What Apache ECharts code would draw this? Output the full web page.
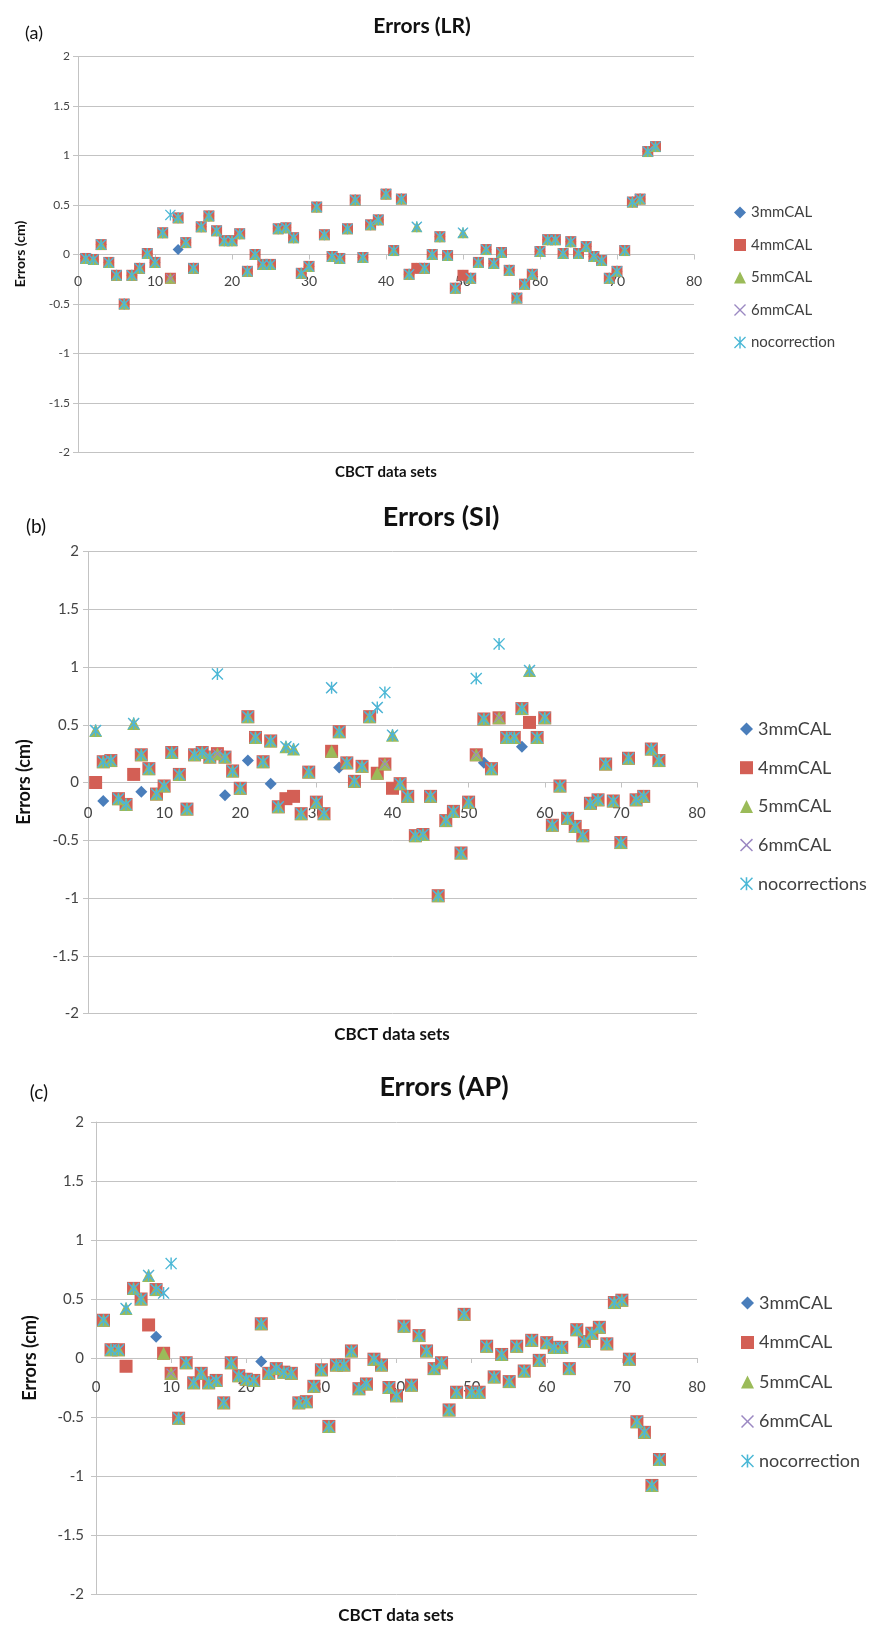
<!DOCTYPE html>
<html lang="en">

<head>
    <meta charset="utf-8">
    <title>Errors (LR / SI / AP)</title>
    <style>
        * {
            margin: 0;
            padding: 0;
        }

        #chart-container {
            width: 887px;
            height: 1626px;
            background: #fff;
        }
    </style>
</head>

<body>
    <div id="chart-container"></div>
    <script src="https://cdn.jsdelivr.net/npm/echarts@6/dist/echarts.min.js"></script>
    <script>
        // values shared by every method, data set 1..75; exceptions listed per series
        var lrBase = [-0.04, -0.05, 0.10, -0.08, -0.21, -0.50, -0.21, -0.14, 0.01, -0.08,
            0.22, -0.24, 0.37, 0.12, -0.14, 0.28, 0.39, 0.24, 0.14, 0.14,
            0.21, -0.17, 0.00, -0.10, -0.10, 0.26, 0.27, 0.17, -0.19, -0.12,
            0.48, 0.20, -0.02, -0.04, 0.26, 0.55, -0.03, 0.30, 0.35, 0.61,
            0.04, 0.56, -0.20, 0.28, -0.14, 0.00, 0.18, -0.01, -0.34, 0.22,
            -0.24, -0.08, 0.05, -0.09, 0.02, -0.16, -0.44, -0.30, -0.20, 0.03,
            0.15, 0.15, 0.01, 0.13, 0.01, 0.08, -0.02, -0.06, -0.24, -0.17,
            0.04, 0.53, 0.56, 1.04, 1.09];
        var lrOverrides = {
            '3mmCAL': { 13: 0.05, 44: -0.14, 50: -0.21 },
            '4mmCAL': { 44: -0.14, 50: -0.21 },
            'nocorrection': { 12: 0.40 }
        };

        var siBase = [0.45, 0.18, 0.19, -0.14, -0.19, 0.51, 0.24, 0.12, -0.10, -0.03,
            0.26, 0.07, -0.23, 0.24, 0.26, 0.22, 0.25, 0.22, 0.10, -0.05,
            0.57, 0.39, 0.18, 0.36, -0.21, 0.31, 0.29, -0.27, 0.09, -0.17,
            -0.27, 0.27, 0.44, 0.17, 0.01, 0.14, 0.57, 0.08, 0.16, 0.41,
            -0.01, -0.12, -0.46, -0.45, -0.12, -0.98, -0.33, -0.25, -0.61, -0.17,
            0.24, 0.55, 0.12, 0.56, 0.39, 0.39, 0.64, 0.97, 0.39, 0.56,
            -0.37, -0.03, -0.31, -0.38, -0.46, -0.18, -0.15, 0.16, -0.16, -0.52,
            0.21, -0.15, -0.12, 0.29, 0.19];
        var siOverrides = {
            '3mmCAL': { 1: 0.00, 2: -0.16, 6: 0.07, 7: -0.08, 18: -0.11, 21: 0.19, 24: -0.01, 26: -0.14,
                27: -0.12, 33: 0.13, 40: -0.05, 52: 0.17, 57: 0.31, 58: 0.52 },
            '4mmCAL': { 1: 0.00, 6: 0.07, 26: -0.14, 27: -0.12, 40: -0.05, 58: 0.52 },
            '6mmCAL': { 32: 0.82, 38: 0.65 },
            'nocorrections': { 17: 0.94, 32: 0.82, 38: 0.65, 39: 0.78, 51: 0.90, 54: 1.20 }
        };

        var apBase = [0.32, 0.07, 0.07, 0.42, 0.59, 0.50, 0.70, 0.58, 0.04, -0.13,
            -0.51, -0.04, -0.21, -0.13, -0.21, -0.19, -0.38, -0.04, -0.15, -0.18,
            -0.19, 0.29, -0.13, -0.09, -0.12, -0.13, -0.38, -0.37, -0.24, -0.10,
            -0.58, -0.06, -0.06, 0.06, -0.26, -0.22, -0.01, -0.06, -0.25, -0.32,
            0.27, -0.23, 0.19, 0.06, -0.09, -0.04, -0.44, -0.29, 0.37, -0.29,
            -0.29, 0.10, -0.16, 0.03, -0.20, 0.10, -0.11, 0.15, -0.02, 0.13,
            0.09, 0.09, -0.09, 0.24, 0.14, 0.21, 0.26, 0.12, 0.47, 0.49,
            -0.01, -0.54, -0.63, -1.08, -0.86];
        var apOverrides = {
            '3mmCAL': { 4: -0.07, 7: 0.28, 8: 0.18, 22: -0.03 },
            '4mmCAL': { 4: -0.07, 7: 0.28 },
            '6mmCAL': { 9: 0.55 },
            'nocorrection': { 9: 0.55, 10: 0.80 }
        };

        var yTicks = { min: -2, max: 2, interval: 0.5 };
        var xTicks = { min: 0, max: 80, interval: 10 };

        var methodsA = ['3mmCAL', '4mmCAL', '5mmCAL', '6mmCAL', 'nocorrection'];
        var methodsB = ['3mmCAL', '4mmCAL', '5mmCAL', '6mmCAL', 'nocorrections'];

        var pathX = 'path://M0,0.8 L0.8,0 L5,4.2 L9.2,0 L10,0.8 L5.8,5 L10,9.2 L9.2,10 L5,5.8 L0.8,10 L0,9.2 L4.2,5 Z';
        var pathStar = pathX + ' M4.4,0 L5.6,0 L5.6,10 L4.4,10 Z';
        var symbols = ['diamond', 'rect', 'triangle', pathX, pathStar];
        var colors = ['#4a7ebb', '#d35f55', '#9bbb59', '#9b88c2', '#4bb8d6'];

        var font = 'Lato, "Open Sans", sans-serif';
        var gridColor = '#c3c3c3';

        // plot boxes of the three panels (y runs -2..2, so zero sits at mid height)
        var grids = [
            { left: 78, top: 56.5, width: 616, height: 396 },
            { left: 88, top: 551.5, width: 609, height: 462 },
            { left: 96, top: 1122, width: 601, height: 472 }
        ];

        var dom = document.getElementById('chart-container');
        var myChart = echarts.init(dom, null, { renderer: 'canvas' });

        function points(base, overrides, name) {
            var ov = overrides[name] || {};
            return base.map(function (v, i) {
                var x = i + 1;
                return [x, ov[x] !== undefined ? ov[x] : v];
            });
        }

        function panelSeries(idx, base, overrides, names, sizes) {
            return names.map(function (name, k) {
                return {
                    name: name,
                    type: 'scatter',
                    xAxisIndex: idx,
                    yAxisIndex: idx,
                    symbol: symbols[k],
                    symbolSize: sizes[k],
                    itemStyle: { color: colors[k], opacity: 1 },
                    data: points(base, overrides, name)
                };
            });
        }

        function xAxis(idx, size, margin) {
            return {
                type: 'value', gridIndex: idx,
                min: xTicks.min, max: xTicks.max, interval: xTicks.interval,
                position: 'bottom',
                offset: -grids[idx].height / 2,
                axisLine: { onZero: false, lineStyle: { color: gridColor, width: 1 } },
                axisTick: { show: true, length: 5, lineStyle: { color: gridColor } },
                axisLabel: { color: '#444', fontSize: size, fontFamily: font, margin: margin },
                splitLine: { show: false }
            };
        }

        function yAxis(idx, size, margin) {
            return {
                type: 'value', gridIndex: idx,
                min: yTicks.min, max: yTicks.max, interval: yTicks.interval,
                axisLine: { show: true, onZero: false, lineStyle: { color: gridColor, width: 1 } },
                axisTick: { show: true, length: 5, lineStyle: { color: gridColor } },
                axisLabel: { color: '#444', fontSize: size, fontFamily: font, margin: margin },
                splitLine: { show: true, lineStyle: { color: gridColor, width: 1 } }
            };
        }

        function legend(names, left, top, size, gap, icon) {
            return {
                data: names, orient: 'vertical', left: left, top: top,
                itemWidth: icon, itemHeight: icon, itemGap: gap,
                selectedMode: false,
                textStyle: { color: '#404040', fontSize: size, lineHeight: size + 2, fontFamily: font }
            };
        }

        function label(text, x, y, size, bold, rotate) {
            return {
                type: 'text', x: x, y: y, rotation: rotate ? Math.PI / 2 : 0,
                style: {
                    text: text, fill: '#111',
                    font: (bold ? 'bold ' : '') + size + 'px ' + font,
                    textAlign: 'center', align: 'center',
                    textVerticalAlign: 'middle', verticalAlign: 'middle'
                }
            };
        }

        var option = {
            animation: false,
            backgroundColor: '#fff',
            grid: grids,
            xAxis: [xAxis(0, 14, 20), xAxis(1, 15, 23), xAxis(2, 15, 22)],
            yAxis: [yAxis(0, 12, 8), yAxis(1, 15, 9), yAxis(2, 15, 12)],
            legend: [
                legend(methodsA, 729, 199, 15, 15.5, 12),
                legend(methodsB, 735, 714, 18, 18.7, 13),
                legend(methodsA, 736, 1288, 18, 19.5, 13)
            ],
            graphic: [
                label('(a)', 34, 33, 18, false),
                label('Errors (LR)', 422, 26, 21, true),
                label('Errors (cm)', 20, 254, 14, true, true),
                label('CBCT data sets', 386, 472, 15, true),

                label('(b)', 36, 527, 19, false),
                label('Errors (SI)', 441, 517, 27, true),
                label('Errors (cm)', 24, 782, 18, true, true),
                label('CBCT data sets', 392, 1035, 17, true),

                label('(c)', 39, 1093, 19, false),
                label('Errors (AP)', 444, 1087, 27, true),
                label('Errors (cm)', 30, 1358, 18, true, true),
                label('CBCT data sets', 396, 1616, 17, true)
            ],
            series: [].concat(
                panelSeries(0, lrBase, lrOverrides, methodsA, [11, 11, 11, 9, 11]),
                panelSeries(1, siBase, siOverrides, methodsB, [12, 13, 13, 10, 12]),
                panelSeries(2, apBase, apOverrides, methodsA, [12, 13, 13, 10, 12])
            )
        };

        if (option && typeof option === 'object') {
            myChart.setOption(option);
        }

        window.addEventListener('resize', myChart.resize);
    </script>
</body>

</html>
